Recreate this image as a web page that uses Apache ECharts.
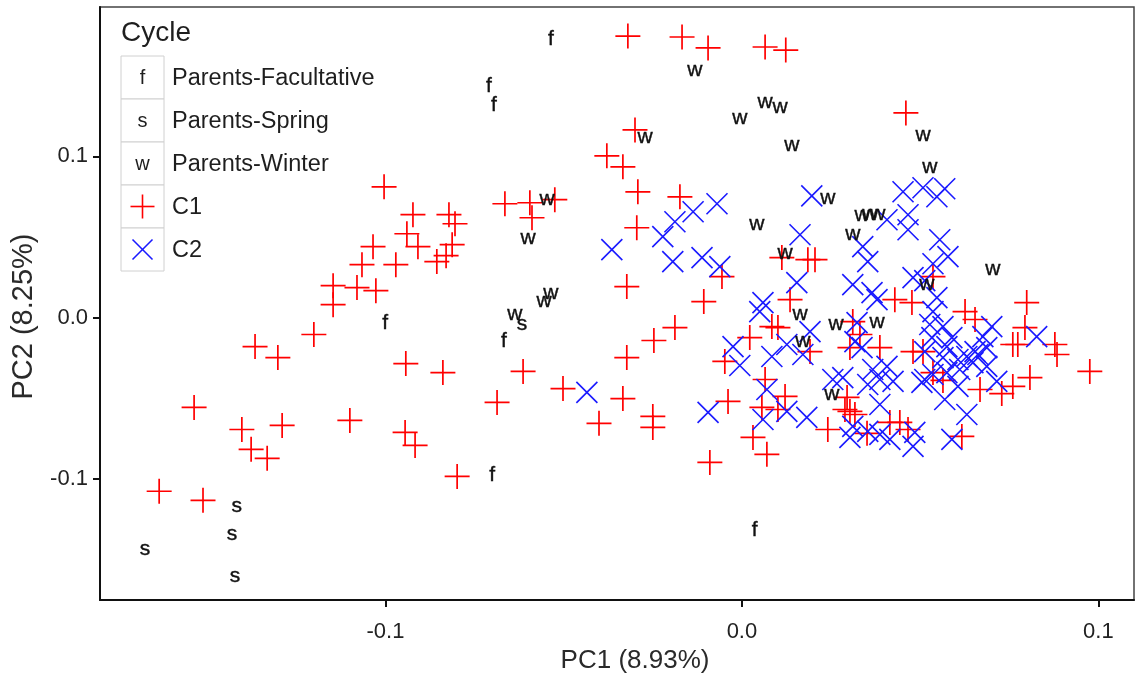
<!DOCTYPE html>
<html><head><meta charset="utf-8">
<script src="https://cdn.jsdelivr.net/npm/echarts@6/dist/echarts.min.js"></script>
<style>html,body{margin:0;padding:0;background:#fff}#chart{width:1136px;height:679px}</style>
</head><body><div id="chart"></div>
<script>
// ---- data ----
const xTicks = [-0.1, 0.0, 0.1];
const yTicks = [-0.1, 0.0, 0.1];
const xTitle = 'PC1 (8.93%)';
const yTitle = 'PC2 (8.25%)';
const legendTitle = 'Cycle';
const groupNames = ['Parents-Facultative', 'Parents-Spring', 'Parents-Winter', 'C1', 'C2'];
const groupLetters = ['f', 's', 'w'];

const facultative = [[-0.0536,0.1728],[-0.0710,0.1437],[-0.0696,0.1319],[-0.1001,-0.0037],[-0.0668,-0.0149],[-0.0701,-0.0978],[0.0036,-0.1319]];
const spring = [[-0.1417,-0.1170],[-0.1431,-0.1344],[-0.1675,-0.1437],[-0.1422,-0.1604],[-0.0617,-0.0043]];
const winter = [[-0.0132,0.1536],[-0.0006,0.1238],[0.0065,0.1337],[0.0107,0.1307],[-0.0272,0.1121],[0.0140,0.1071],[0.0508,0.1133],[0.0527,0.0935],[-0.0547,0.0731],[0.0241,0.0743],[-0.0600,0.0495],[0.0042,0.0576],[0.0337,0.0632],[0.0359,0.0638],[0.0381,0.0638],[0.0311,0.0514],[0.0121,0.0402],[0.0704,0.0297],[0.0519,0.0204],[-0.0536,0.0149],[-0.0555,0.0099],[-0.0637,0.0019],[0.0163,0.0019],[0.0171,-0.0149],[0.0264,-0.0043],[0.0379,-0.0031],[0.0252,-0.0477]];
const c1 = [[-0.0320,0.1746],[-0.0168,0.1740],[-0.0095,0.1672],[0.0065,0.1678],[0.0123,0.1659],[0.0460,0.1269],[-0.0300,0.1164],[-0.0379,0.1003],[-0.0334,0.0935],[-0.0292,0.0780],[-0.0174,0.0749],[-0.0295,0.0557],[-0.0665,0.0706],[-0.0595,0.0712],[-0.0525,0.0731],[-0.0589,0.0619],[-0.0323,0.0192],[-0.0056,0.0254],[0.0112,0.0372],[0.0185,0.0359],[0.0205,0.0359],
[-0.1004,0.0811],[-0.0923,0.0638],[-0.0822,0.0638],[-0.0805,0.0582],[-0.0940,0.0520],[-0.1035,0.0440],[-0.0909,0.0440],[-0.0813,0.0452],[-0.0830,0.0384],[-0.0856,0.0347],[-0.1066,0.0328],[-0.0971,0.0328],[-0.1147,0.0198],[-0.1080,0.0186],[-0.1027,0.0167],[-0.1147,0.0080],[-0.1201,-0.0105],[-0.1366,-0.0180],[-0.1302,-0.0248],
[-0.0943,-0.0285],[-0.0839,-0.0341],[-0.0687,-0.0526],[-0.1537,-0.0557],[-0.1403,-0.0694],[-0.1290,-0.0669],[-0.1100,-0.0638],[-0.0945,-0.0712],[-0.0917,-0.0793],[-0.1377,-0.0817],[-0.1332,-0.0873],[-0.0799,-0.0985],[-0.1635,-0.1077],[-0.1512,-0.1133],
[-0.0614,-0.0334],[-0.0502,-0.0440],[-0.0323,-0.0248],[-0.0247,-0.0142],[-0.0188,-0.0062],[-0.0107,0.0099],[-0.0334,-0.0502],[-0.0401,-0.0656],[-0.0250,-0.0613],[-0.0250,-0.0681],[0.0022,-0.0124],[0.0084,-0.0056],[0.0101,-0.0062],[-0.0048,-0.0272],[0.0065,-0.0384],[0.0121,-0.0489],[-0.0039,-0.0520],[0.0056,-0.0557],[0.0101,-0.0570],[0.0031,-0.0743],[0.0070,-0.0848],[-0.0090,-0.0898],[0.0135,0.0111],[0.0191,-0.0211],[0.0241,-0.0694],
[0.0303,-0.0186],[0.0387,-0.0186],[0.0311,-0.0025],[0.0331,-0.0105],[0.0429,0.0111],[0.0477,0.0093],[0.0536,0.0254],[0.0626,0.0037],[0.0799,0.0093],[0.0760,-0.0167],[0.0774,-0.0167],[0.0794,-0.0062],[0.0878,-0.0167],[0.0884,-0.0229],[0.0976,-0.0334],[0.0480,-0.0211],[0.0508,-0.0211],[0.0536,-0.0341],[0.0564,-0.0390],[0.0668,-0.0446],[0.0729,-0.0471],[0.0760,-0.0427],[0.0808,-0.0372],[0.0295,-0.0495],[0.0303,-0.0582],[0.0317,-0.0601],[0.0289,-0.0570],[0.0351,-0.0718],[0.0415,-0.0650],[0.0443,-0.0650],[0.0466,-0.0694],[0.0617,-0.0737],[0.0654,-0.0012]];
const c2 = [[-0.0365,0.0421],[-0.0222,0.0502],[-0.0188,0.0594],[-0.0137,0.0656],[-0.0070,0.0706],[-0.0194,0.0347],[-0.0112,0.0372],[-0.0062,0.0316],[0.0163,0.0514],[0.0196,0.0755],[0.0154,0.0217],[0.0059,0.0093],[0.0050,0.0037],[-0.0435,-0.0464],[-0.0095,-0.0588],[-0.0025,-0.0180],[-0.0006,-0.0297],
[0.0452,0.0780],[0.0508,0.0805],[0.0547,0.0749],[0.0569,0.0799],[0.0407,0.0607],[0.0466,0.0638],[0.0466,0.0545],[0.0339,0.0440],[0.0353,0.0347],[0.0555,0.0483],[0.0536,0.0334],[0.0578,0.0378],[0.0311,0.0204],[0.0365,0.0155],[0.0379,0.0111],[0.0480,0.0248],[0.0513,0.0229],[0.0547,0.0124],[0.0536,0.0037],
[0.0323,-0.0031],[0.0191,-0.0087],[0.0317,-0.0149],[0.0337,-0.0186],[0.0171,-0.0229],[0.0084,-0.0241],[0.0126,-0.0167],[0.0070,-0.0446],[0.0059,-0.0632],[0.0126,-0.0582],[0.0182,-0.0619],[0.0255,-0.0384],[0.0283,-0.0372],[0.0353,-0.0415],[0.0387,-0.0384],[0.0367,-0.0322],[0.0407,-0.0303],[0.0311,-0.0675],[0.0353,-0.0706],[0.0387,-0.0724],[0.0387,-0.0539],[0.0424,-0.0396],[0.0303,-0.0743],[0.0415,-0.0755],[0.0485,-0.0712],[0.0480,-0.0799],[0.0589,-0.0755],
[0.0513,-0.0384],[0.0527,-0.0043],[0.0564,-0.0056],[0.0575,-0.0180],[0.0589,-0.0124],[0.0606,-0.0260],[0.0631,-0.0241],[0.0654,-0.0211],[0.0676,-0.0118],[0.0701,-0.0056],[0.0827,-0.0118],[0.0575,-0.0341],[0.0611,-0.0322],[0.0648,-0.0279],[0.0687,-0.0303],[0.0715,-0.0396],[0.0569,-0.0508],[0.0631,-0.0601],[0.0533,-0.0124],[0.0513,-0.0211],[0.0564,-0.0248],[0.0662,-0.0229],[0.0687,-0.0186],[0.0536,-0.0353],[0.0505,-0.0402],[0.0606,-0.0427]];

// ---- styling ----
const FONT = 'Liberation Sans, Arial, sans-serif';
const RED = '#ff0000';
const BLUE = '#1a1aff';
const INK = '#1e1e1e';
const PLUS = 'path://M0,10L20,10M10,0L10,20';
const CROSS = 'path://M0,0L20,20M20,0L0,20';

const chart = echarts.init(document.getElementById('chart'), null, {renderer: 'canvas'});

function textSeries(name, data, letter) {
  return {
    name: name, type: 'scatter', data: data, symbol: 'circle', symbolSize: 1,
    itemStyle: {color: '#000', opacity: 0}, silent: true, z: 5,
    label: {show: true, position: 'inside', formatter: letter, fontSize: 21, opacity: 1,
            color: '#111', fontFamily: FONT, textBorderWidth: 0.4, textBorderColor: '#111'}
  };
}

// legend (built from names)
const legX = 121, legTop = 56, rowH = 43, keyW = 43;
const legendEls = [{type: 'text', left: legX, top: 19,
  style: {text: legendTitle, font: '28px ' + FONT, fill: INK}}];
groupNames.forEach((nm, i) => {
  const y0 = legTop + i * rowH, cx = legX + keyW / 2, cy = y0 + rowH / 2;
  legendEls.push({type: 'rect', shape: {x: legX, y: y0, width: keyW, height: rowH},
    style: {fill: '#fff', stroke: '#d0d0d0', lineWidth: 1}});
  if (i < 3) {
    legendEls.push({type: 'text', x: cx, y: cy + 1,
      style: {text: groupLetters[i], font: '20px ' + FONT, fill: INK, align: 'center', verticalAlign: 'middle'}});
  } else if (i === 3) {
    legendEls.push({type: 'line', shape: {x1: cx - 12, y1: cy, x2: cx + 12, y2: cy}, style: {stroke: RED, lineWidth: 1.6}});
    legendEls.push({type: 'line', shape: {x1: cx, y1: cy - 12, x2: cx, y2: cy + 12}, style: {stroke: RED, lineWidth: 1.6}});
  } else {
    legendEls.push({type: 'line', shape: {x1: cx - 10, y1: cy - 10, x2: cx + 10, y2: cy + 10}, style: {stroke: BLUE, lineWidth: 1.6}});
    legendEls.push({type: 'line', shape: {x1: cx + 10, y1: cy - 10, x2: cx - 10, y2: cy + 10}, style: {stroke: BLUE, lineWidth: 1.6}});
  }
  legendEls.push({type: 'text', x: legX + keyW + 8, y: cy + 1,
    style: {text: nm, font: '23.5px ' + FONT, fill: INK, verticalAlign: 'middle'}});
});

chart.setOption({
  animation: false,
  backgroundColor: '#fff',
  grid: {left: 100, right: 2, top: 7, bottom: 78, show: true, borderColor: '#444', borderWidth: 1.5, backgroundColor: '#fff'},
  xAxis: {
    type: 'value', min: -0.1801, max: 0.110,
    name: xTitle, nameLocation: 'middle', nameGap: 47,
    nameTextStyle: {fontSize: 26, color: '#2a2a2a', fontFamily: FONT, padding: [0, 0, 0, 36]},
    splitLine: {show: false},
    axisLine: {show: true, onZero: false, lineStyle: {color: '#111', width: 2}},
    axisTick: {show: true, customValues: xTicks, length: 7, lineStyle: {color: '#111', width: 2}},
    axisLabel: {customValues: xTicks, formatter: v => v.toFixed(1), fontSize: 22, color: '#222', margin: 21, fontFamily: FONT}
  },
  yAxis: {
    type: 'value', min: -0.1752, max: 0.1926,
    name: yTitle, nameLocation: 'middle', nameGap: 62, nameRotate: 90,
    nameTextStyle: {fontSize: 29, color: '#2a2a2a', fontFamily: FONT, padding: [0, 26, 0, 0]},
    splitLine: {show: false},
    axisLine: {show: true, onZero: false, lineStyle: {color: '#111', width: 2}},
    axisTick: {show: true, customValues: yTicks, length: 7, lineStyle: {color: '#111', width: 2}},
    axisLabel: {customValues: yTicks, formatter: v => v.toFixed(1), fontSize: 22, color: '#222', margin: 12, fontFamily: FONT}
  },
  graphic: legendEls,
  series: [
    {name: groupNames[3], type: 'scatter', data: c1, symbol: PLUS, symbolSize: 25, silent: true,
     itemStyle: {color: 'rgba(0,0,0,0)', borderColor: RED, borderWidth: 1.7, opacity: 1}},
    {name: groupNames[4], type: 'scatter', data: c2, symbol: CROSS, symbolSize: 21, silent: true,
     itemStyle: {color: 'rgba(0,0,0,0)', borderColor: BLUE, borderWidth: 1.6, opacity: 1}},
    textSeries(groupNames[0], facultative, groupLetters[0]),
    textSeries(groupNames[1], spring, groupLetters[1]),
    textSeries(groupNames[2], winter, groupLetters[2])
  ]
});
</script></body></html>
